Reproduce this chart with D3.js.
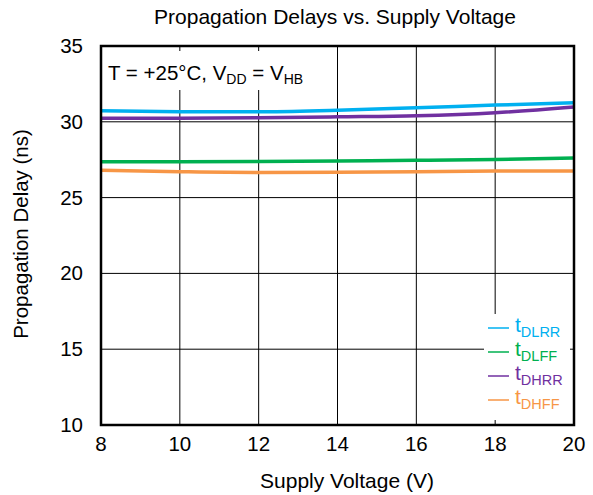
<!DOCTYPE html>
<html><head><meta charset="utf-8">
<script src="https://cdn.jsdelivr.net/npm/d3@7"></script>
<style>body{margin:0;background:#fff}svg{display:block;font-family:"Liberation Sans",Arial,sans-serif}</style>
</head><body><svg id="c" width="593" height="495"></svg>
<script>
const voltage = [8, 10, 12, 14, 16, 18, 20];
const tDLRR = [30.73, 30.67, 30.66, 30.77, 30.93, 31.1, 31.26];
const tDHRR = [30.23, 30.24, 30.27, 30.33, 30.4, 30.6, 30.98];
const tDLFF = [27.37, 27.37, 27.38, 27.41, 27.46, 27.52, 27.61];
const tDHFF = [26.8, 26.71, 26.66, 26.67, 26.71, 26.75, 26.75];
const xTicks = [8, 10, 12, 14, 16, 18, 20];
const yTicks = [10, 15, 20, 25, 30, 35];
const seriesNames = ["DLRR", "DLFF", "DHRR", "DHFF"];
const seriesColors = ["#00b0f0", "#00b050", "#7030a0", "#f79646"];
const seriesData = [tDLRR, tDLFF, tDHRR, tDHFF];

const svg = d3.select("#c");
const L = 101, R = 574, T = 46, B = 425;
const x = d3.scaleLinear().domain([8, 20]).range([L, R]);
const y = d3.scaleLinear().domain([10, 35]).range([B, T]);

// grid
svg.append("g").selectAll("line").data(xTicks.slice(1, -1)).join("line")
  .attr("x1", d => x(d)).attr("x2", d => x(d)).attr("y1", T).attr("y2", B)
  .attr("stroke", "#000").attr("stroke-width", 1);
svg.append("g").selectAll("line").data(yTicks.slice(1, -1)).join("line")
  .attr("x1", L).attr("x2", R).attr("y1", d => y(d)).attr("y2", d => y(d))
  .attr("stroke", "#000").attr("stroke-width", 1);

// annotation box
svg.append("rect").attr("x", 104).attr("y", 51).attr("width", 212).attr("height", 39).attr("fill", "#fff");
const ann = svg.append("text").attr("x", 108).attr("y", 80).attr("font-size", 20.5).attr("fill", "#000");
ann.append("tspan").text("T = +25°C, V");
ann.append("tspan").text("DD").attr("font-size", 14).attr("dy", 4);
ann.append("tspan").text(" = V").attr("dy", -4);
ann.append("tspan").text("HB").attr("font-size", 14).attr("dy", 4);

// lines
const line = d3.line().x((d, i) => x(voltage[i])).y(d => y(d)).curve(d3.curveMonotoneX);
seriesData.forEach((s, k) => {
  svg.append("path").attr("d", line(s)).attr("fill", "none")
    .attr("stroke", seriesColors[k]).attr("stroke-width", 3.5);
});

// legend
svg.append("rect").attr("x", 484).attr("y", 314).attr("width", 86).attr("height", 106).attr("fill", "#fff");
seriesNames.forEach((n, k) => {
  const yy = 328 + k * 24;
  svg.append("line").attr("x1", 488).attr("x2", 509).attr("y1", yy).attr("y2", yy)
    .attr("stroke", seriesColors[k]).attr("stroke-width", 1.5);
  const t = svg.append("text").attr("x", 515).attr("y", yy + 4).attr("fill", seriesColors[k]).attr("font-size", 21);
  t.append("tspan").text("t");
  t.append("tspan").text(n).attr("font-size", 14.5).attr("dy", 5);
});

// frame
svg.append("rect").attr("x", L).attr("y", T).attr("width", R - L).attr("height", B - T)
  .attr("fill", "none").attr("stroke", "#000").attr("stroke-width", 2.5);

// tick labels
svg.append("g").selectAll("text").data(xTicks).join("text")
  .attr("x", d => x(d)).attr("y", 451).attr("text-anchor", "middle").attr("font-size", 20.5).text(d => d);
svg.append("g").selectAll("text").data(yTicks).join("text")
  .attr("x", 83).attr("y", d => y(d) + 7).attr("text-anchor", "end").attr("font-size", 20.5).text(d => d);

// titles
svg.append("text").attr("x", 335).attr("y", 24).attr("text-anchor", "middle").attr("font-size", 21)
  .text("Propagation Delays vs. Supply Voltage");
svg.append("text").attr("x", 347).attr("y", 488).attr("text-anchor", "middle").attr("font-size", 21)
  .text("Supply Voltage (V)");
svg.append("text").attr("transform", "translate(28,234) rotate(-90)").attr("text-anchor", "middle").attr("font-size", 20.5)
  .text("Propagation Delay (ns)");
</script></body></html>
